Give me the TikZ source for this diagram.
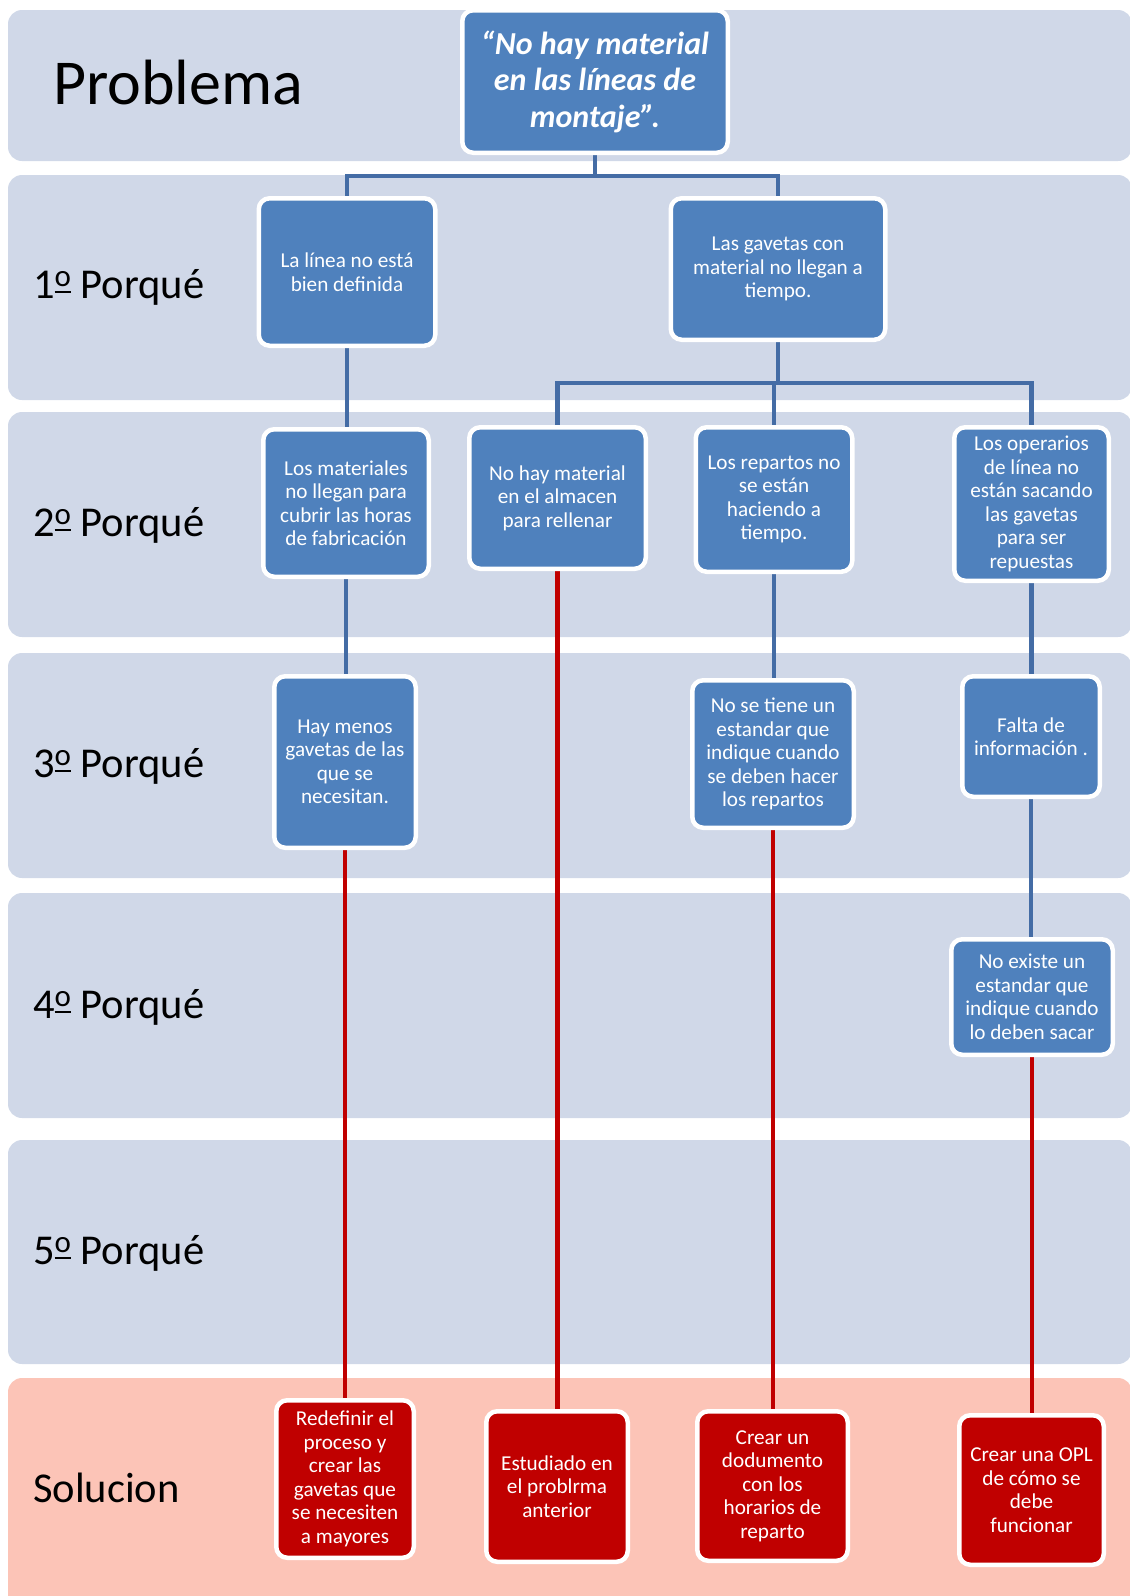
\documentclass[tikz,border=0pt]{standalone}
\usepackage{fontspec}
\setmainfont{Carlito}
\pgfdeclarelayer{bands}
\pgfdeclarelayer{lines}
\pgfsetlayers{bands,lines,main}
\definecolor{bandblue}{RGB}{208,216,232}
\definecolor{bandred}{RGB}{252,196,183}
\definecolor{boxblue}{RGB}{79,129,189}
\definecolor{boxred}{RGB}{192,0,0}
\definecolor{lineblue}{RGB}{68,108,165}
\definecolor{linered}{RGB}{192,0,0}
\newcommand{\ordm}{\begingroup\setbox0\hbox{\fontsize{31}{31}\selectfont o}\raisebox{11.5pt}{\copy0}\llap{\rule[5.2pt]{\wd0}{2pt}}\endgroup}
\begin{document}
\begin{tikzpicture}[x=1pt,y=-1pt,
  band/.style={fill=bandblue, draw=none, rounded corners=14pt},
  bandsol/.style={fill=bandred, draw=none, rounded corners=14pt},
  lbl/.style={anchor=base west, inner sep=0pt, font=\fontsize{42.5}{48}\selectfont},
  bx/.style={draw=white, line width=4.5pt, fill=boxblue, rounded corners=11pt,
    text=white, align=center, inner sep=0pt, font=\fontsize{21.2}{23.5}\selectfont},
  rbx/.style={bx, fill=boxred},
  bl/.style={draw=lineblue, line width=4.5pt},
  rl/.style={draw=linered, line width=4.5pt}]
\useasboundingbox (0,0) rectangle (1130,1596);
\begin{pgfonlayer}{bands}
\clip (0,0) rectangle (1130,1596);
\fill[band] (8,10) rectangle (1132,161);
\fill[band] (8,175) rectangle (1132,400);
\fill[band] (8,412) rectangle (1132,637);
\fill[band] (8,653) rectangle (1132,878);
\fill[band] (8,893) rectangle (1132,1118);
\fill[band] (8,1140) rectangle (1132,1364);
\fill[bandsol] (8,1378) rectangle (1132,1612);
\end{pgfonlayer}
% labels
\node[lbl, font=\fontsize{64}{70}\selectfont] (lprob) at (53,104) {Problema};
\node[lbl] (l1) at (33,298) {1\ordm{} Porqué};
\node[lbl] (l2) at (33,536) {2\ordm{} Porqué};
\node[lbl] (l3) at (33,777) {3\ordm{} Porqué};
\node[lbl] (l4) at (33,1018) {4\ordm{} Porqué};
\node[lbl] (l5) at (33,1264) {5\ordm{} Porqué};
\node[lbl] (l6) at (33,1502) {Solucion};
% boxes
\node[bx, minimum width=265.5pt, minimum height=142.5pt, font=\fontsize{32}{36.5}\selectfont\bfseries\itshape] (top) at (595,81.5) {“No hay material\\en las líneas de\\montaje”.};
\node[bx, minimum width=176.5pt, minimum height=147.5pt] (p1a) at (347,272) {La línea no está\\bien definida};
\node[bx, minimum width=214.5pt, minimum height=141.5pt] (p1b) at (778,269) {Las gavetas con\\material no llegan a\\tiempo.};
\node[bx, minimum width=165.5pt, minimum height=147.5pt] (p2a) at (346,503) {Los materiales\\no llegan para\\cubrir las horas\\de fabricación};
\node[bx, minimum width=176.5pt, minimum height=141.5pt] (p2b) at (557.5,498) {No hay material\\en el almacen\\para rellenar};
\node[bx, minimum width=156.5pt, minimum height=144.5pt] (p2c) at (774,499.5) {Los repartos no\\se están\\haciendo a\\tiempo.};
\node[bx, minimum width=154.5pt, minimum height=153.5pt] (p2d) at (1031.5,504) {Los operarios\\de línea no\\están sacando\\las gavetas\\para ser\\repuestas};
\node[bx, minimum width=141.5pt, minimum height=171.5pt] (p3a) at (345,762) {Hay menos\\gavetas de las\\que se\\necesitan.};
\node[bx, minimum width=161.5pt, minimum height=147.5pt] (p3c) at (773,754) {No se tiene un\\estandar que\\indique cuando\\se deben hacer\\los repartos};
\node[bx, minimum width=137.5pt, minimum height=120.5pt] (p3d) at (1031,736.5) {Falta de\\información .};
\node[bx, minimum width=161.5pt, minimum height=115.5pt] (p4d) at (1032,997) {No existe un\\estandar que\\indique cuando\\lo deben sacar};
\node[rbx, minimum width=137.5pt, minimum height=157.5pt] (sa) at (345,1479) {Redefinir el\\proceso y\\crear las\\gavetas que\\se necesiten\\a mayores};
\node[rbx, minimum width=141.5pt, minimum height=150.5pt] (sb) at (557,1486.5) {Estudiado en\\el problrma\\anterior};
\node[rbx, minimum width=150.5pt, minimum height=149.5pt] (sc) at (772.5,1486) {Crear un\\dodumento\\con los\\horarios de\\reparto};
\node[rbx, minimum width=144.5pt, minimum height=149.5pt] (sd) at (1031.5,1490) {Crear una OPL\\de cómo se\\debe\\funcionar};
\coordinate (j1) at (595,176);
\coordinate (j2) at (778,383);
% connectors
\begin{pgfonlayer}{lines}
\draw[bl] (top.south) -- (j1);
\draw[bl] (p1a.north) |- (j1) -| (p1b.north);
\draw[bl] (p1a.south) -- (p1a.south |- p2a.north);
\draw[bl] (p1b.south) -- (j2);
\draw[bl] (p2b.north) |- (j2) -| (p2d.north);
\draw[bl] (p2c.north) |- (j2);
\draw[bl] (p2a.south) -- (p2a.south |- p3a.north);
\draw[bl] (p2c.south) -- (p2c.south |- p3c.north);
\draw[bl] (p2d.south) -- (p2d.south |- p3d.north);
\draw[bl] (p3d.south) -- (p3d.south |- p4d.north);
\draw[rl] (p2b.south) -- (p2b.south |- sb.north);
\draw[rl] (p3a.south) -- (p3a.south |- sa.north);
\draw[rl] (p3c.south) -- (p3c.south |- sc.north);
\draw[rl] (p4d.south) -- (p4d.south |- sd.north);
\end{pgfonlayer}
\end{tikzpicture}
\end{document}
